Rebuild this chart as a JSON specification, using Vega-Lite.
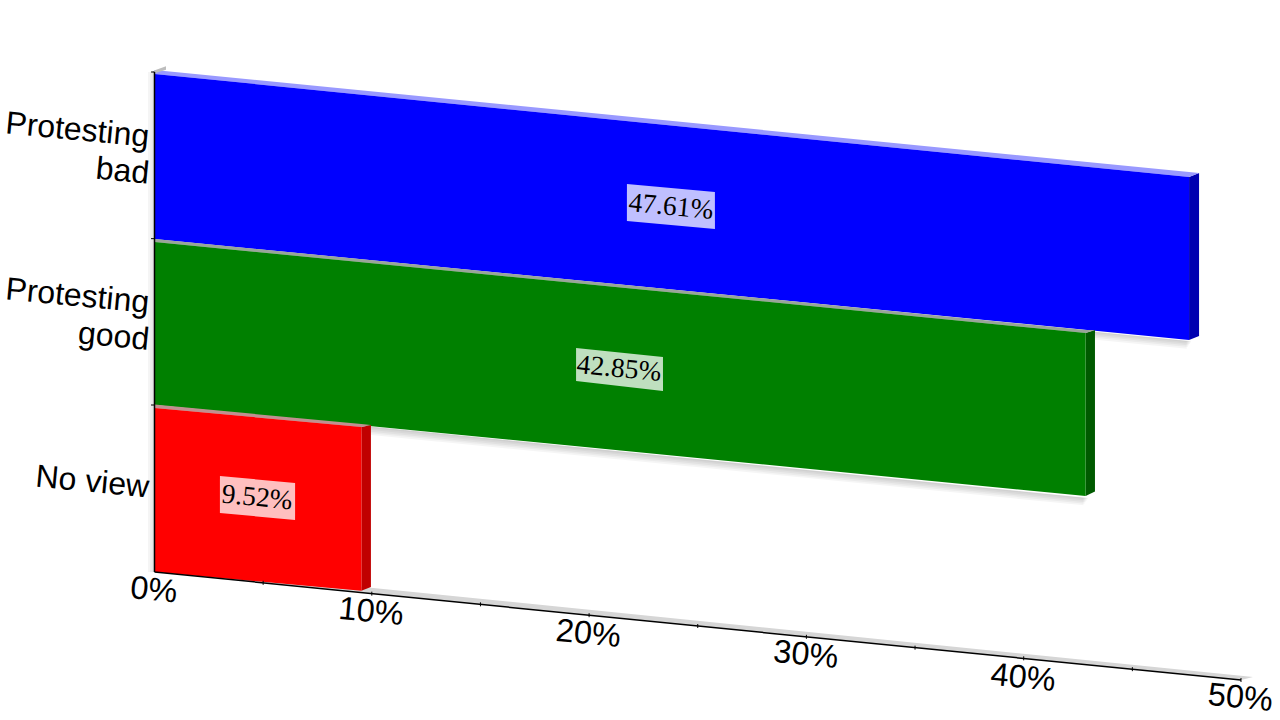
{
"$schema":"https://vega.github.io/schema/vega-lite/v6.json",
"width":1280,"height":720,"padding":0,
"autosize":{"type":"fit","contains":"padding"},
"background":"white",
"config":{"view":{"stroke":null}},
"datasets":{
"floor":[
{"part":"floor","pct":0,"top":0,"bottom":0},
{"part":"floor","pct":0.53,"top":0.03,"bottom":-0.006},
{"part":"floor","pct":50,"top":-0.623,"bottom":-0.648},
{"part":"floor","pct":50.55,"top":-0.63,"bottom":-0.63}
],
"shadows":[
{"part":"s1","pct":0,"top":1.002,"bottom":0.99},
{"part":"s1","pct":42.95,"top":0.446,"bottom":0.437},
{"part":"s2","pct":0,"top":1.002,"bottom":0.98},
{"part":"s2","pct":42.9,"top":0.446,"bottom":0.428},
{"part":"s3","pct":0,"top":1.002,"bottom":0.97},
{"part":"s3","pct":42.85,"top":0.446,"bottom":0.419},
{"part":"s4","pct":0,"top":1.002,"bottom":0.96},
{"part":"s4","pct":42.8,"top":0.446,"bottom":0.41},
{"part":"s5","pct":0,"top":1.002,"bottom":0.95},
{"part":"s5","pct":42.75,"top":0.446,"bottom":0.4},
{"part":"s6","pct":0,"top":1.998,"bottom":1.986},
{"part":"s6","pct":47.7,"top":1.386,"bottom":1.377},
{"part":"s7","pct":0,"top":1.998,"bottom":1.976},
{"part":"s7","pct":47.65,"top":1.386,"bottom":1.368},
{"part":"s8","pct":0,"top":1.998,"bottom":1.966},
{"part":"s8","pct":47.6,"top":1.386,"bottom":1.359},
{"part":"s9","pct":0,"top":1.998,"bottom":1.956},
{"part":"s9","pct":47.55,"top":1.386,"bottom":1.35},
{"part":"s10","pct":0,"top":1.998,"bottom":1.946},
{"part":"s10","pct":47.5,"top":1.386,"bottom":1.34},
{"part":"s11","pct":-0.1,"top":3,"bottom":0},
{"part":"s11","pct":0,"top":3,"bottom":0},
{"part":"s12","pct":-0.2,"top":3,"bottom":0},
{"part":"s12","pct":0,"top":3,"bottom":0},
{"part":"s13","pct":-0.3,"top":3,"bottom":0},
{"part":"s13","pct":0,"top":3,"bottom":0}
],
"faces":[
{"part":"bad side","pct":47.61,"top":2.37,"bottom":1.392},
{"part":"bad side","pct":48.07,"top":2.394,"bottom":1.416},
{"part":"bad top","pct":0,"top":3.012,"bottom":2.988},
{"part":"bad top","pct":47.61,"top":2.4,"bottom":2.37},
{"part":"bad top","pct":48.07,"top":2.394,"bottom":2.394},
{"part":"bad front","pct":0,"top":2.988,"bottom":1.998},
{"part":"bad front","pct":47.61,"top":2.37,"bottom":1.392},
{"part":"good side","pct":42.85,"top":1.434,"bottom":0.456},
{"part":"good side","pct":43.28,"top":1.452,"bottom":0.483},
{"part":"good top","pct":0,"top":1.998,"bottom":1.98},
{"part":"good top","pct":42.85,"top":1.452,"bottom":1.434},
{"part":"good top","pct":43.28,"top":1.452,"bottom":1.452},
{"part":"good front","pct":0,"top":1.98,"bottom":1.002},
{"part":"good front","pct":42.85,"top":1.434,"bottom":0.456},
{"part":"none side","pct":9.52,"top":0.87,"bottom":-0.112},
{"part":"none side","pct":9.96,"top":0.882,"bottom":-0.09},
{"part":"none top","pct":0,"top":1.005,"bottom":0.984},
{"part":"none top","pct":9.52,"top":0.888,"bottom":0.87},
{"part":"none top","pct":9.96,"top":0.882,"bottom":0.882},
{"part":"none front","pct":0,"top":0.984,"bottom":0},
{"part":"none front","pct":9.52,"top":0.87,"bottom":-0.112},
{"part":"bad box","pct":21.74,"top":2.328,"bottom":2.106},
{"part":"bad box","pct":25.79,"top":2.28,"bottom":2.058},
{"part":"good box","pct":19.4,"top":1.344,"bottom":1.146},
{"part":"good box","pct":23.4,"top":1.29,"bottom":1.086},
{"part":"none box","pct":3.01,"top":0.576,"bottom":0.354},
{"part":"none box","pct":6.47,"top":0.534,"bottom":0.312},
{"part":"wall","pct":-0.12,"top":3.0,"bottom":3.0},
{"part":"wall","pct":0.05,"top":3.012,"bottom":2.994},
{"part":"wall","pct":0.53,"top":3.034,"bottom":3.014}
],
"axes":[
{"pct":0,"pct2":0,"a":3,"b":0},
{"pct":0,"pct2":50,"a":0,"b":-0.648}
],
"ticks":[
{"pct":-0.16,"pct2":0,"a":3,"b":3},
{"pct":-0.16,"pct2":0,"a":2,"b":2},
{"pct":-0.16,"pct2":0,"a":1.002,"b":1.002},
{"pct":5,"pct2":5,"a":-0.053,"b":-0.077},
{"pct":10,"pct2":10,"a":-0.118,"b":-0.142},
{"pct":15,"pct2":15,"a":-0.182,"b":-0.206},
{"pct":20,"pct2":20,"a":-0.247,"b":-0.271},
{"pct":25,"pct2":25,"a":-0.312,"b":-0.336},
{"pct":30,"pct2":30,"a":-0.377,"b":-0.401},
{"pct":35,"pct2":35,"a":-0.442,"b":-0.466},
{"pct":40,"pct2":40,"a":-0.506,"b":-0.53},
{"pct":45,"pct2":45,"a":-0.571,"b":-0.595},
{"pct":50,"pct2":50,"a":-0.636,"b":-0.66}
],
"values":[
{"pct":23.77,"pos":2.19,"label":"47.61%"},
{"pct":21.38,"pos":1.218,"label":"42.85%"},
{"pct":4.72,"pos":0.444,"label":"9.52%"}
],
"xlabels":[
{"pct":-0.03,"pos":-0.11,"label":"0%"},
{"pct":9.97,"pos":-0.24,"label":"10%"},
{"pct":19.97,"pos":-0.372,"label":"20%"},
{"pct":29.97,"pos":-0.498,"label":"30%"},
{"pct":39.97,"pos":-0.636,"label":"40%"},
{"pct":49.97,"pos":-0.756,"label":"50%"}
],
"ylabels":[
{"pct":-0.25,"pos":2.61,"label":"Protesting"},
{"pct":-0.25,"pos":2.39,"label":"bad"},
{"pct":-0.25,"pos":1.614,"label":"Protesting"},
{"pct":-0.25,"pos":1.392,"label":"good"},
{"pct":-0.25,"pos":0.507,"label":"No view"}
]
},
"layer":[
{"data":{"name":"floor"},"mark":{"type":"area","interpolate":"linear","line":false},
"encoding":{
"x":{"field":"pct","type":"quantitative","scale":{"domain":[-7.11,51.795],"nice":false,"zero":false},"axis":null},
"y":{"field":"top","type":"quantitative","scale":{"domain":[-0.888,3.432],"nice":false,"zero":false},"axis":null,"stack":null},
"y2":{"field":"bottom"},
"detail":{"field":"part"},
"color":{"value":"#d6d6d6"}}},
{"data":{"name":"shadows"},"mark":{"type":"area","interpolate":"linear","opacity":0.04},
"encoding":{
"x":{"field":"pct","type":"quantitative","axis":null},
"y":{"field":"top","type":"quantitative","axis":null,"stack":null},
"y2":{"field":"bottom"},
"detail":{"field":"part"},
"color":{"value":"#000000"}}},
{"data":{"name":"faces"},"mark":{"type":"area","interpolate":"linear"},
"encoding":{
"x":{"field":"pct","type":"quantitative","axis":null},
"y":{"field":"top","type":"quantitative","axis":null,"stack":null},
"y2":{"field":"bottom"},
"color":{"field":"part","type":"nominal","legend":null,"scale":{
"domain":["bad side","bad top","bad front","good side","good top","good front","none side","none top","none front","bad box","good box","none box","wall"],
"range":["#0000b0","#9999ff","#0000ff","#005a00","#99a599","#008000","#c00000","#c09090","#ff0000","#bfbfff","#bfdfbf","#ffbfbf","#bdbdbd"]}}}},
{"data":{"name":"axes"},"mark":{"type":"rule","color":"#000000","strokeWidth":1.5},
"encoding":{
"x":{"field":"pct","type":"quantitative","axis":null},"x2":{"field":"pct2"},
"y":{"field":"a","type":"quantitative","axis":null},"y2":{"field":"b"}}},
{"data":{"name":"ticks"},"mark":{"type":"rule","color":"#000000","strokeWidth":1},
"encoding":{
"x":{"field":"pct","type":"quantitative","axis":null},"x2":{"field":"pct2"},
"y":{"field":"a","type":"quantitative","axis":null},"y2":{"field":"b"}}},
{"data":{"name":"values"},"mark":{"type":"text","font":"Liberation Serif","fontSize":27.5,"angle":5.5,"align":"center","baseline":"middle","color":"#000000"},
"encoding":{
"x":{"field":"pct","type":"quantitative","axis":null},
"y":{"field":"pos","type":"quantitative","axis":null},
"text":{"field":"label"}}},
{"data":{"name":"xlabels"},"mark":{"type":"text","font":"Liberation Sans","fontSize":32.5,"angle":5.5,"align":"center","baseline":"middle","color":"#000000"},
"encoding":{
"x":{"field":"pct","type":"quantitative","axis":null},
"y":{"field":"pos","type":"quantitative","axis":null},
"text":{"field":"label"}}},
{"data":{"name":"ylabels"},"mark":{"type":"text","font":"Liberation Sans","fontSize":32,"angle":5.5,"align":"right","baseline":"middle","color":"#000000"},
"encoding":{
"x":{"field":"pct","type":"quantitative","axis":null},
"y":{"field":"pos","type":"quantitative","axis":null},
"text":{"field":"label"}}}
]
}
